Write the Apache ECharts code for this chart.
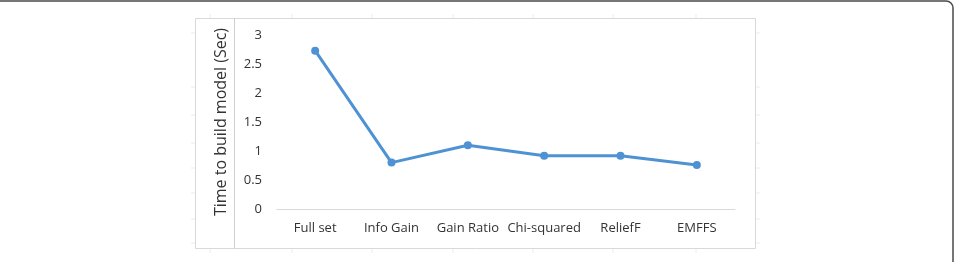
<!DOCTYPE html>
<html>
<head>
<meta charset="utf-8">
<script src="https://cdn.jsdelivr.net/npm/echarts@6/dist/echarts.min.js"></script>
<style>
  html, body { margin: 0; padding: 0; background: #fff; }
  #chart { width: 957px; height: 262px; }
</style>
</head>
<body>
<div id="chart"></div>
<script>
// data
const categories = ['Full set', 'Info Gain', 'Gain Ratio', 'Chi-squared', 'ReliefF', 'EMFFS']
const buildTime = [2.73, 0.8, 1.1, 0.92, 0.92, 0.76]
const yTicks = [0, 0.5, 1, 1.5, 2, 2.5, 3]

const textColor = '#333333'
const lineColor = '#4e92d4'
const fontFamily = '"Open Sans", "Liberation Sans", sans-serif'

// faint crop ticks round the pasted chart box (decoration only)
const cropTicks = []
;[210, 292, 372, 453, 533, 613, 696].forEach(x => {
  cropTicks.push({ x1: x, y1: 14, x2: x, y2: 18 })
  cropTicks.push({ x1: x, y1: 249, x2: x, y2: 253 })
})
;[33, 87, 115, 143, 168, 193, 219, 243].forEach(y => {
  cropTicks.push({ x1: 191, y1: y, x2: 195, y2: y })
  cropTicks.push({ x1: 756, y1: y, x2: 760, y2: y })
})

const chart = echarts.init(document.getElementById('chart'))
const option = {
  animation: false,
  backgroundColor: '#fff',
  graphic: [
    // outer figure frame (rounded, cut off at left/bottom)
    {
      type: 'rect',
      shape: { x: -20, y: 1, width: 973, height: 300, r: 7 },
      style: { fill: 'none', stroke: '#4a4a4a', lineWidth: 1.5 },
      silent: true
    },
    // chart box
    {
      type: 'rect',
      shape: { x: 195.5, y: 18.5, width: 560, height: 230 },
      style: { fill: 'none', stroke: '#d9d9d9', lineWidth: 1 },
      silent: true
    },
    // axis title box divider
    {
      type: 'line',
      shape: { x1: 234.5, y1: 18.5, x2: 234.5, y2: 248.5 },
      style: { stroke: '#cfcfcf', lineWidth: 1 },
      silent: true
    },
    ...cropTicks.map(s => ({
      type: 'line',
      shape: s,
      style: { stroke: '#ececec', lineWidth: 1 },
      silent: true
    }))
  ],
  grid: {
    left: 277,
    right: 222,
    top: 35,
    bottom: 53
  },
  xAxis: {
    type: 'category',
    data: categories,
    boundaryGap: true,
    axisLine: { lineStyle: { color: '#d9d9d9', width: 1 } },
    axisTick: { show: false },
    axisLabel: {
      color: textColor,
      fontFamily: fontFamily,
      fontSize: 13,
      margin: 13,
      interval: 0
    }
  },
  yAxis: {
    type: 'value',
    min: yTicks[0],
    max: yTicks[yTicks.length - 1],
    interval: 0.5,
    name: 'Time to build model (Sec)',
    nameLocation: 'middle',
    nameGap: 48,
    nameTextStyle: {
      color: textColor,
      fontFamily: fontFamily,
      fontSize: 16
    },
    axisLine: { show: false },
    axisTick: { show: false },
    splitLine: { show: false },
    axisLabel: {
      color: textColor,
      fontFamily: fontFamily,
      fontSize: 13,
      margin: 15
    }
  },
  series: [
    {
      type: 'line',
      data: buildTime,
      symbol: 'circle',
      symbolSize: 8,
      lineStyle: { color: lineColor, width: 3 },
      itemStyle: { color: lineColor }
    }
  ]
}
chart.setOption(option)
</script>
</body>
</html>
